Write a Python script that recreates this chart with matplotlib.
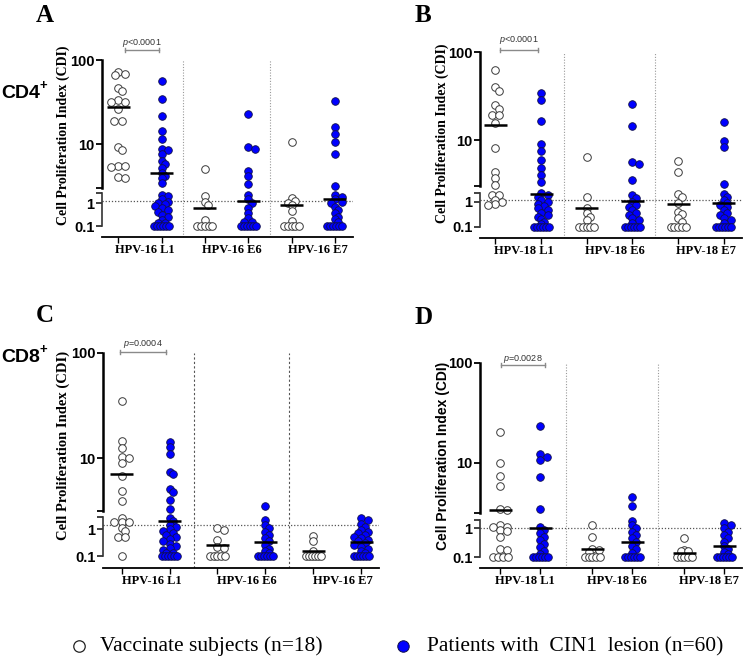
import numpy as np
import matplotlib
matplotlib.use("Agg")
import matplotlib.pyplot as plt
from matplotlib.ticker import NullLocator

plt.rcParams['mathtext.fontset'] = 'custom'
plt.rcParams['mathtext.it'] = 'Liberation Sans:italic'
plt.rcParams['mathtext.rm'] = 'Liberation Sans'

# ---------------- data ----------------
labels_16 = ["HPV-16 L1", "HPV-16 E6", "HPV-16 E7"]
labels_18 = ["HPV-18 L1", "HPV-18 E6", "HPV-18 E7"]

# Panel A: CD4+, HPV-16
a_vac_l1 = [72, 68, 66, 47, 43, 33, 32, 31.6, 26, 18.8, 18.8, 9.3, 8.5, 5.5, 5.4, 5.3, 4.0, 3.95]
a_pat_l1 = [57, 34, 21.5, 14.4, 11.4, 8.7, 8.4, 7.7, 6.3, 5.8, 5.2, 4.5, 4.2, 3.9, 3.4,
            2.3, 2.0, 1.5, 1.2, 1.0, 0.9, 0.75, 0.6, 0.5, 0.4, 0.31, 0.25, 0.18, 0.14, 0.14,
            0.1, 0.1, 0.1, 0.1, 0.1, 0.1]
a_vac_e6 = [5.0, 2.1, 1.2, 0.8, 0.18, 0.1, 0.1, 0.1, 0.1, 0.1]
a_pat_e6 = [22.8, 9.1, 8.7, 4.8, 4.2, 3.3, 2.3, 1.5, 1.0, 0.6, 0.36, 0.22, 0.15, 0.15,
            0.1, 0.1, 0.1, 0.1, 0.1, 0.1]
a_vac_e7 = [10.7, 1.7, 1.3, 1.05, 0.8, 0.45, 0.17, 0.1, 0.1, 0.1, 0.1, 0.1]
a_pat_e7 = [32.5, 16.1, 13.0, 10.7, 7.7, 3.2, 2.3, 1.9, 1.5, 1.2, 1.0, 0.7, 0.5, 0.36,
            0.26, 0.2, 0.15, 0.1, 0.1, 0.1, 0.1, 0.1, 0.1]
a_median = [27.8, 4.5, 0.64, 1.27, 0.87, 1.6]
a_cutoff = 1.3
a_p = "$p$<0.0001"

# Panel B: CD4+, HPV-18
b_vac_l1 = [62, 40, 36, 24.8, 22.5, 19.4, 19.4, 15.7, 8.2, 4.3, 3.7, 3.1, 1.8, 1.8, 1.17,
            0.94, 0.78, 0.74]
b_pat_l1 = [34, 28.5, 16.4, 9.0, 7.5, 5.9, 4.8, 4.0, 3.3, 2.2, 1.9, 1.58, 1.17, 1.0, 0.81,
            0.65, 0.54, 0.45, 0.36, 0.3, 0.25, 0.2, 0.16, 0.13, 0.1, 0.1, 0.1, 0.1, 0.1, 0.1]
b_vac_e6 = [6.4, 1.6, 0.54, 0.36, 0.25, 0.18, 0.1, 0.1, 0.1, 0.1, 0.1]
b_pat_e6 = [25.6, 14.6, 5.6, 5.3, 3.5, 1.85, 1.36, 1.0, 0.74, 0.6, 0.46, 0.36, 0.29, 0.22,
            0.18, 0.14, 0.1, 0.1, 0.1, 0.1, 0.1, 0.1]
b_vac_e7 = [5.8, 4.3, 2.0, 1.5, 0.86, 0.4, 0.32, 0.22, 0.16, 0.1, 0.1, 0.1, 0.1, 0.1]
b_pat_e7 = [16.2, 9.8, 8.4, 3.2, 2.0, 1.58, 1.17, 0.9, 0.74, 0.6, 0.46, 0.36, 0.29, 0.22,
            0.18, 0.14, 0.1, 0.1, 0.1, 0.1, 0.1, 0.1]
b_median = [14.9, 1.97, 0.54, 1.06, 0.83, 0.88]
b_cutoff = 1.17
b_p = "$p$<0.0001"

# Panel C: CD8+, HPV-16
c_vac_l1 = [35, 14.5, 12.5, 10.3, 10.1, 8.9, 6.8, 4.9, 3.9, 2.7, 1.8, 1.8, 1.8, 1.1, 0.85,
            0.5, 0.5, 0.1]
c_pat_l1 = [14.3, 12.8, 10.9, 7.4, 7.0, 5.1, 4.7, 4.0, 3.3, 2.6, 2.1, 1.45, 1.2, 1.0, 0.85,
            0.71, 0.6, 0.5, 0.42, 0.35, 0.29, 0.24, 0.2, 0.17, 0.13, 0.13,
            0.1, 0.1, 0.1, 0.1, 0.1, 0.1]
c_vac_e6 = [1.1, 0.95, 0.4, 0.22, 0.2, 0.1, 0.1, 0.1, 0.1, 0.1]
c_pat_e6 = [3.5, 2.2, 1.45, 1.09, 0.82, 0.61, 0.46, 0.35, 0.26, 0.19, 0.15, 0.13,
            0.1, 0.1, 0.1, 0.1, 0.1, 0.1]
c_vac_e7 = [0.56, 0.35, 0.15, 0.1, 0.1, 0.1, 0.1, 0.1, 0.1]
c_pat_e7 = [2.7, 2.2, 1.58, 1.19, 0.95, 0.82, 0.7, 0.61, 0.52, 0.46, 0.4, 0.35, 0.3, 0.26,
            0.22, 0.19, 0.15, 0.13, 0.1, 0.1, 0.1, 0.1, 0.1, 0.1]
c_median = [7.0, 2.1, 0.25, 0.33, 0.15, 0.33]
c_cutoff = 1.4
c_p = "$p$=0.0004"

# Panel D: CD8+, HPV-18
d_vac_l1 = [20.6, 10.1, 7.4, 5.9, 3.5, 3.4, 1.3, 1.15, 1.1, 0.9, 0.8, 0.52, 0.2, 0.18,
            0.1, 0.1, 0.1, 0.1]
d_pat_l1 = [23.4, 12.2, 11.6, 10.7, 7.3, 3.5, 1.14, 0.88, 0.67, 0.49, 0.38, 0.29, 0.22,
            0.16, 0.13, 0.1, 0.1, 0.1, 0.1, 0.1, 0.1]
d_vac_e6 = [1.25, 0.52, 0.2, 0.18, 0.15, 0.1, 0.1, 0.1, 0.1, 0.1]
d_pat_e6 = [4.6, 3.7, 1.84, 1.3, 1.0, 0.77, 0.59, 0.45, 0.35, 0.25, 0.19, 0.14,
            0.1, 0.1, 0.1, 0.1, 0.1, 0.1]
d_vac_e7 = [0.45, 0.18, 0.16, 0.16, 0.1, 0.1, 0.1, 0.1, 0.1]
d_pat_e7 = [1.57, 1.3, 1.0, 0.77, 0.59, 0.45, 0.35, 0.25, 0.19, 0.15, 0.13,
            0.1, 0.1, 0.1, 0.1, 0.1, 0.1]
d_median = [3.4, 1.05, 0.19, 0.35, 0.14, 0.25]
d_cutoff = 1.0
d_p = "$p$=0.0028"

# ---------------- layout (pixels) ----------------
W, H = 744, 657
fig = plt.figure(figsize=(W / 100, H / 100), dpi=100)

geo_a = dict(spine=102, right=353, col0=118.3, unit=43.3, pos=[0, 1, 2, 3, 4, 5],
             y100=60, y10=144, y3=188, yT=193.5, y1=203.3, y01=226, yaxis=237,
             br=(125, 159, 50, 43), sep=('#9a9a9a', (0, (1, 1.5))))
geo_b = dict(spine=480, right=742, col0=495.3, unit=45.7, pos=[0, 1, 2, 3, 4, 5],
             y100=52, y10=140, y3=186, yT=193, y1=201.7, y01=226.7, yaxis=238,
             br=(500, 538, 50, 39.5), sep=('#9a9a9a', (0, (1, 1.5))))
geo_c = dict(spine=103, right=379, col0=121.7, unit=47.9, pos=[0, 1, 2, 3, 4, 5],
             y100=353, y10=458, y3=511, yT=517, y1=529.3, y01=556, yaxis=568,
             br=(120, 166, 352, 344.5), sep=('#555555', (0, (2, 2))))
geo_d = dict(spine=480, right=742, col0=500.3, unit=40, pos=[0, 1, 2.3, 3.3, 4.6, 5.6],
             y100=363, y10=463, y3=513, yT=520, y1=528.3, y01=557.3, yaxis=568,
             br=(501, 545, 365, 359), sep=('#9a9a9a', (0, (1, 1.5))))

D_MARK = 7.6  # marker diameter in px


def rect(x0, x1, ytop, ybot):
    return [x0 / W, 1 - ybot / H, (x1 - x0) / W, (ybot - ytop) / H]


def swarm(ypx, d):
    ypx = np.asarray(ypx, float)
    xo = np.full(len(ypx), np.nan)
    key = np.round(ypx, 1)
    vals, counts = np.unique(key, return_counts=True)
    for v, c in zip(vals, counts):
        if c > 1:
            idx = np.where(key == v)[0]
            w = min((c - 1) * d * 0.5, 7.5)
            xo[idx] = np.linspace(-w, w, c)
    cand = [0.0, d * 0.45, -d * 0.45, d * 0.9, -d * 0.9]
    for i in np.argsort(-ypx):
        if not np.isnan(xo[i]):
            continue
        placed = ~np.isnan(xo)
        best, best_gap = 0.0, -1
        for c in cand:
            if placed.any():
                dist = np.hypot(xo[placed] - c, ypx[placed] - ypx[i]).min()
            else:
                dist = np.inf
            if dist >= 0.55 * d:
                best = c
                break
            if dist > best_gap:
                best, best_gap = c, dist
        xo[i] = best
    return xo


def style_axis(ax, lw, color):
    for s in ['top', 'right', 'bottom']:
        ax.spines[s].set_visible(False)
    ax.spines['left'].set_linewidth(lw)
    ax.spines['left'].set_color(color)
    ax.patch.set_visible(False)
    ax.set_xticks([])
    ax.yaxis.set_minor_locator(NullLocator())
    ax.tick_params(axis='y', length=4, width=1.3, pad=1.5, color=color)
    for t in ax.get_yticklabels():
        t.set_fontfamily('Liberation Sans')
        t.set_fontweight('bold')
        t.set_fontsize(10.5)


def draw_panel(g, series, med, cut, labels, ptxt):
    unit = g['unit']
    pos = np.array(g['pos'], float)
    xlim = ((g['spine'] - g['col0']) / unit, (g['right'] - g['col0']) / unit)
    up_lo = 10 ** (1 - (g['y3'] - g['y10']) / (g['y10'] - g['y100']))
    lo_hi = 10 ** ((g['y1'] - g['yT']) / (g['y01'] - g['y1']))

    base = fig.add_axes(rect(g['spine'], g['right'], g['y100'], g['yaxis']))
    up = fig.add_axes(rect(g['spine'], g['right'], g['y100'], g['y3']))
    lo = fig.add_axes(rect(g['spine'], g['right'], g['yT'], g['y01']))

    base.set_xlim(xlim)
    base.set_ylim(0, 1)
    base.patch.set_visible(False)
    for s in ['top', 'right', 'left']:
        base.spines[s].set_visible(False)
    base.spines['bottom'].set_linewidth(1.3)
    base.set_yticks([])
    base.set_xticks(pos)
    base.set_xticklabels([])
    base.tick_params(axis='x', length=4, width=1.0)
    sc, sls = g['sep']
    for k in (1, 3):
        base.axvline((pos[k] + pos[k + 1]) / 2, 0, 1, color=sc, ls=sls, lw=0.8)
    for j, lab in enumerate(labels):
        xc = (pos[2 * j] + pos[2 * j + 1]) / 2 + 0.12
        base.annotate(lab, (xc, 0), xycoords=('data', 'axes fraction'),
                      xytext=(0, -9.5), textcoords='offset points', ha='center',
                      va='center', fontfamily='Liberation Serif', fontweight='bold',
                      fontsize=9)

    up.set_yscale('log')
    up.set_ylim(up_lo, 100)
    up.set_xlim(xlim)
    up.set_yticks([up_lo, 10, 100])
    up.set_yticklabels(['', '10', '100'])
    style_axis(up, 1.8, 'black')

    lo.set_yscale('log')
    lo.set_ylim(0.1, lo_hi)
    lo.set_xlim(xlim)
    lo.set_yticks([0.1, 1, lo_hi])
    lo.set_yticklabels(['0.1', '1', ''])
    style_axis(lo, 1.2, '#333333')
    lo.axhline(cut, color='#555555', ls=(0, (1, 1.5)), lw=0.9, zorder=1)

    for k, vals in enumerate(series):
        vals = np.asarray(vals, float)
        in_up = vals > lo_hi
        ypx = np.array([(up if u else lo).transData.transform((0, v))[1]
                        for v, u in zip(vals, in_up)])
        xs = pos[k] + swarm(ypx, D_MARK) / unit
        if k % 2 == 0:
            kw = dict(facecolor='white', edgecolor='#3a3a3a', linewidth=0.7)
        else:
            kw = dict(facecolor='#0000ff', edgecolor='#10104a', linewidth=0.6)
        for ax, m in ((up, in_up), (lo, ~in_up)):
            if m.any():
                ax.scatter(xs[m], vals[m], s=30, zorder=3, clip_on=False, **kw)
        mv = med[k]
        ax = up if mv > lo_hi else lo
        hw = 11.5 / unit
        ax.plot([pos[k] - hw, pos[k] + hw], [mv, mv], color='black', lw=1.8,
                zorder=4, clip_on=False, solid_capstyle='butt')

    # p-value bracket
    x0, x1, yb, yt = g['br']
    hpx = g['yaxis'] - g['y100']
    xb0 = (x0 - g['col0']) / unit
    xb1 = (x1 - g['col0']) / unit
    yf = 1 + (g['y100'] - yb) / hpx
    cap = 2.2 / hpx
    base.plot([xb0, xb1], [yf, yf], color='#8a8a8a', lw=1.0, clip_on=False)
    for xb in (xb0, xb1):
        base.plot([xb, xb], [yf - cap, yf + cap], color='#8a8a8a', lw=1.0, clip_on=False)
    base.text((xb0 + xb1) / 2, 1 + (g['y100'] - yt) / hpx, ptxt, ha='center',
              va='center', fontsize=6.5, color='#333333', fontfamily='Liberation Sans')


draw_panel(geo_a, [a_vac_l1, a_pat_l1, a_vac_e6, a_pat_e6, a_vac_e7, a_pat_e7],
           a_median, a_cutoff, labels_16, a_p)
draw_panel(geo_b, [b_vac_l1, b_pat_l1, b_vac_e6, b_pat_e6, b_vac_e7, b_pat_e7],
           b_median, b_cutoff, labels_18, b_p)
draw_panel(geo_c, [c_vac_l1, c_pat_l1, c_vac_e6, c_pat_e6, c_vac_e7, c_pat_e7],
           c_median, c_cutoff, labels_16, c_p)
draw_panel(geo_d, [d_vac_l1, d_pat_l1, d_vac_e6, d_pat_e6, d_vac_e7, d_pat_e7],
           d_median, d_cutoff, labels_18, d_p)

# ---------------- figure-level text ----------------
def ftext(x, y, s, **kw):
    fig.text(x / W, 1 - y / H, s, **kw)


ylab = "Cell Proliferation Index (CDI)"
ftext(63, 135, ylab, rotation=90, ha='center', va='center', fontsize=10,
      fontfamily='Liberation Serif', fontweight='bold')
ftext(442, 133, ylab, rotation=90, ha='center', va='center', fontsize=10,
      fontfamily='Liberation Serif', fontweight='bold')
ftext(63, 445, ylab, rotation=90, ha='center', va='center', fontsize=10.5,
      fontfamily='Liberation Serif', fontweight='bold')
ftext(443, 456, ylab, rotation=90, ha='center', va='center', fontsize=10,
      fontfamily='Liberation Sans', fontweight='bold')

for (x, y, s) in [(45, 16, 'A'), (423, 15, 'B'), (45, 316, 'C'), (424, 318, 'D')]:
    ftext(x, y, s, ha='center', va='center', fontsize=18,
          fontfamily='Liberation Serif', fontweight='bold')

for (y, s) in [(94, 'CD4'), (358, 'CD8')]:
    ftext(1, y, s, ha='left', va='center', fontsize=14,
          fontfamily='Liberation Sans', fontweight='bold')
    ftext(40, y - 7.5, '+', ha='left', va='center', fontsize=9.5,
          fontfamily='Liberation Sans', fontweight='bold')

# legend
ov = fig.add_axes([0, 0, 1, 1])
ov.set_xlim(0, W)
ov.set_ylim(H, 0)
ov.axis('off')
ov.scatter([78.5], [645.5], s=68, facecolor='white', edgecolor='#222222', linewidth=0.9)
ov.scatter([403], [645.5], s=68, facecolor='#0000ff', edgecolor='#10104a', linewidth=0.7)
ov.text(100, 651, "Vaccinate subjects (n=18)", ha='left', va='baseline', fontsize=15.5,
        fontfamily='Liberation Serif')
ov.text(427, 651, "Patients with  CIN1  lesion (n=60)", ha='left', va='baseline',
        fontsize=15.5, fontfamily='Liberation Serif')

fig.savefig("out.png", dpi=100)
